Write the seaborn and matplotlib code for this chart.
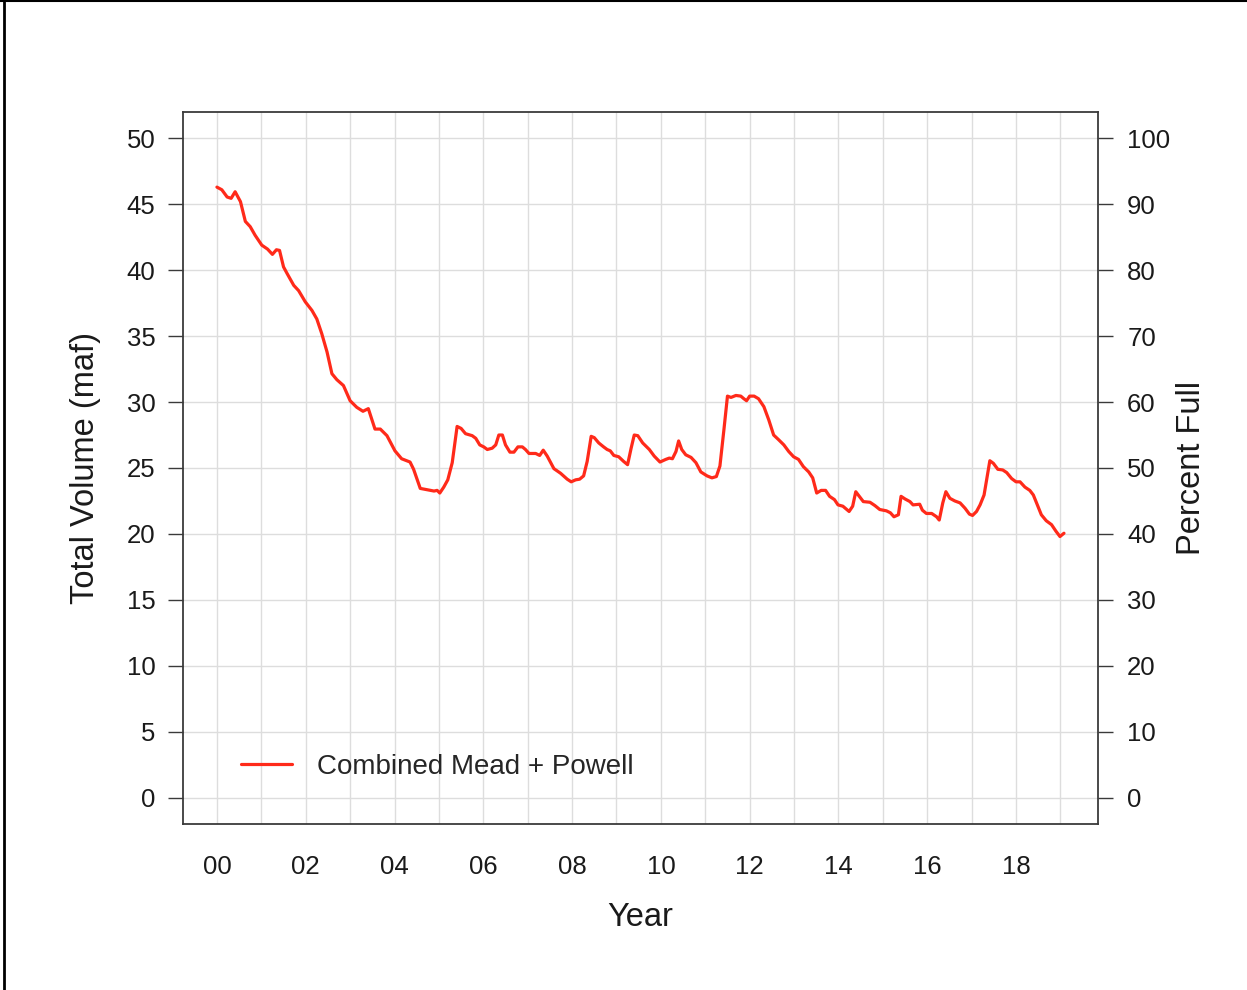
"""
Combined Lake Mead + Lake Powell storage, 2000 - early 2019.
Left axis in million acre-feet, right axis as percent of a 50 maf capacity.
"""

import matplotlib.pyplot as plt
import matplotlib.lines as mlines
import pandas as pd
import seaborn as sns

# decimal year of each reading
YEARS = [
    2000.00, 2000.11, 2000.23, 2000.32, 2000.41, 2000.53, 2000.64, 2000.75, 2000.86,
    2001.01, 2001.14, 2001.25, 2001.34, 2001.41, 2001.50, 2001.58, 2001.73, 2001.84,
    2001.99, 2002.14, 2002.25, 2002.36, 2002.48, 2002.59, 2002.70, 2002.85,
    2003.00, 2003.15, 2003.29, 2003.41, 2003.56, 2003.68, 2003.83,
    2004.01, 2004.16, 2004.35, 2004.43, 2004.58, 2004.74, 2004.89, 2004.96,
    2005.02, 2005.11, 2005.20, 2005.30, 2005.41, 2005.50, 2005.60, 2005.75, 2005.83, 2005.92,
    2006.01, 2006.09, 2006.20, 2006.28, 2006.35, 2006.43, 2006.50, 2006.60, 2006.69,
    2006.78, 2006.88, 2006.95,
    2007.03, 2007.18, 2007.27, 2007.35, 2007.44, 2007.59, 2007.74, 2007.89, 2007.98,
    2008.08, 2008.17, 2008.26, 2008.34, 2008.43, 2008.50, 2008.60, 2008.71, 2008.79,
    2008.86, 2008.94,
    2009.05, 2009.16, 2009.25, 2009.33, 2009.40, 2009.48, 2009.59, 2009.74, 2009.85, 2009.98,
    2010.11, 2010.19, 2010.26, 2010.34, 2010.40, 2010.47, 2010.56, 2010.68, 2010.79, 2010.90,
    2011.04, 2011.15, 2011.25, 2011.33, 2011.42, 2011.50, 2011.58, 2011.69, 2011.80,
    2011.87, 2011.93,
    2012.00, 2012.10, 2012.20, 2012.32, 2012.43, 2012.54, 2012.65, 2012.77, 2012.88, 2012.99,
    2013.10, 2013.21, 2013.33, 2013.42, 2013.51, 2013.61, 2013.71, 2013.80, 2013.91, 2013.99,
    2014.10, 2014.24, 2014.32, 2014.39, 2014.48, 2014.56, 2014.71, 2014.82, 2014.93,
    2015.08, 2015.17, 2015.25, 2015.35, 2015.41, 2015.50, 2015.61, 2015.68, 2015.83,
    2015.89, 2015.98,
    2016.10, 2016.21, 2016.27, 2016.35, 2016.42, 2016.51, 2016.62, 2016.74, 2016.85, 2016.95,
    2017.02, 2017.11, 2017.19, 2017.28, 2017.35, 2017.41, 2017.49, 2017.59, 2017.70,
    2017.79, 2017.90,
    2018.00, 2018.09, 2018.20, 2018.31, 2018.39, 2018.48, 2018.57, 2018.68, 2018.80,
    2018.90, 2018.99, 2019.08,
]

# combined storage (maf) at each reading
VOLUME_MAF = [
    46.3, 46.1, 45.55, 45.45, 45.95, 45.2, 43.7, 43.3, 42.65,
    41.9, 41.6, 41.2, 41.55, 41.5, 40.25, 39.75, 38.85, 38.45,
    37.6, 36.95, 36.3, 35.2, 33.8, 32.15, 31.7, 31.25,
    30.1, 29.6, 29.3, 29.5, 27.95, 27.95, 27.45,
    26.3, 25.7, 25.45, 24.9, 23.45, 23.35, 23.25, 23.3,
    23.1, 23.55, 24.1, 25.4, 28.15, 28.0, 27.6, 27.45, 27.25, 26.75,
    26.6, 26.4, 26.5, 26.75, 27.5, 27.5, 26.75, 26.2, 26.2,
    26.6, 26.6, 26.4,
    26.1, 26.1, 25.95, 26.35, 25.9, 24.95, 24.6, 24.15, 23.95,
    24.1, 24.15, 24.4, 25.5, 27.4, 27.3, 26.9, 26.6, 26.4,
    26.3, 25.95,
    25.85, 25.5, 25.25, 26.5, 27.5, 27.45, 26.9, 26.4, 25.9, 25.45,
    25.65, 25.75, 25.7, 26.25, 27.05, 26.4, 26.0, 25.8, 25.4, 24.7,
    24.4, 24.25, 24.35, 25.15, 27.9, 30.45, 30.35, 30.5, 30.45,
    30.25, 30.1,
    30.45, 30.45, 30.25, 29.65, 28.65, 27.5, 27.15, 26.75, 26.25, 25.85,
    25.65, 25.1, 24.7, 24.25, 23.1, 23.3, 23.3, 22.85, 22.6, 22.2,
    22.1, 21.7, 22.1, 23.2, 22.8, 22.45, 22.4, 22.15, 21.85,
    21.75, 21.6, 21.3, 21.45, 22.85, 22.65, 22.45, 22.2, 22.25,
    21.8, 21.55,
    21.55, 21.3, 21.05, 22.35, 23.2, 22.7, 22.5, 22.35, 21.95, 21.5,
    21.4, 21.7, 22.2, 22.95, 24.35, 25.55, 25.35, 24.9, 24.85,
    24.65, 24.2,
    23.95, 23.95, 23.55, 23.3, 22.95, 22.2, 21.45, 21.0, 20.7,
    20.2, 19.8, 20.05,
]

SERIES_LABEL = "Combined Mead + Powell"
YEAR_TICKS = list(range(2000, 2020))
LEFT_TICKS = list(range(0, 55, 5))
RIGHT_TICKS = list(range(0, 110, 10))

LINE_COLOR = "#ff2a1a"
FRAME_COLOR = "#3a3a3a"
GRID_COLOR = "#dddddd"
TEXT_COLOR = "#1a1a1a"


def main():
    sns.set_style("white")
    plt.rcParams["font.family"] = ["Liberation Sans", "DejaVu Sans"]

    df = pd.DataFrame({"year": YEARS, "volume": VOLUME_MAF})

    fig = plt.figure(figsize=(12.47, 9.9), dpi=100)
    ax = fig.add_axes([0.1468, 0.1677, 0.7337, 0.7192])

    sns.lineplot(data=df, x="year", y="volume", ax=ax, color=LINE_COLOR,
                 linewidth=2.3, label=SERIES_LABEL, sort=False)

    # R-style 4% padding around the data range
    ax.set_xlim(1999.237, 2019.846)
    ax.set_ylim(-2, 52)
    ax.set_xticks(YEAR_TICKS)
    ax.set_xticklabels([f"{y % 100:02d}" if y % 2 == 0 else "" for y in YEAR_TICKS])
    ax.set_yticks(LEFT_TICKS)
    ax.grid(True, color=GRID_COLOR, linewidth=1.0)
    ax.set_axisbelow(True)

    for side in ax.spines.values():
        side.set_color(FRAME_COLOR)
        side.set_linewidth(1.3)

    ax.tick_params(axis="both", direction="out", length=11, width=1.0,
                   color=FRAME_COLOR, labelsize=18.5, labelcolor=TEXT_COLOR)
    ax.tick_params(axis="x", pad=11)
    ax.tick_params(axis="y", pad=9)

    ax.set_xlabel("Year", fontsize=23.5, color=TEXT_COLOR, va="center")
    ax.xaxis.set_label_coords(0.5, -0.132)
    ax.set_ylabel("Total Volume (maf)", fontsize=23.5, color=TEXT_COLOR,
                  va="center", ha="center")
    ax.yaxis.set_label_coords(-0.107, 0.5)

    # right axis: percent of 50 maf
    ax2 = ax.twinx()
    ax2.set_ylim(-4, 104)
    ax2.set_yticks(RIGHT_TICKS)
    ax2.tick_params(axis="y", direction="out", length=11, width=1.0,
                    color=FRAME_COLOR, labelsize=18.5, labelcolor=TEXT_COLOR, pad=10)
    for side in ax2.spines.values():
        side.set_visible(False)
    ax2.set_ylabel("Percent Full", fontsize=23.5, color=TEXT_COLOR,
                   rotation=90, va="center", ha="center")
    ax2.yaxis.set_label_coords(1.1027, 0.5)

    ax.legend(loc="center left", bbox_to_anchor=(0.0634, 0.08), frameon=False,
              fontsize=20, handlelength=1.85, handletextpad=0.9,
              borderpad=0, borderaxespad=0)

    # page border remnants along the top and left edges
    fig.add_artist(mlines.Line2D([0, 1], [0.999, 0.999], color="black",
                                 linewidth=1.5, transform=fig.transFigure))
    fig.add_artist(mlines.Line2D([0.003, 0.003], [0, 1], color="black",
                                 linewidth=2.0, transform=fig.transFigure))

    fig.savefig("out.png", dpi=100)
    plt.close(fig)


if __name__ == "__main__":
    main()
